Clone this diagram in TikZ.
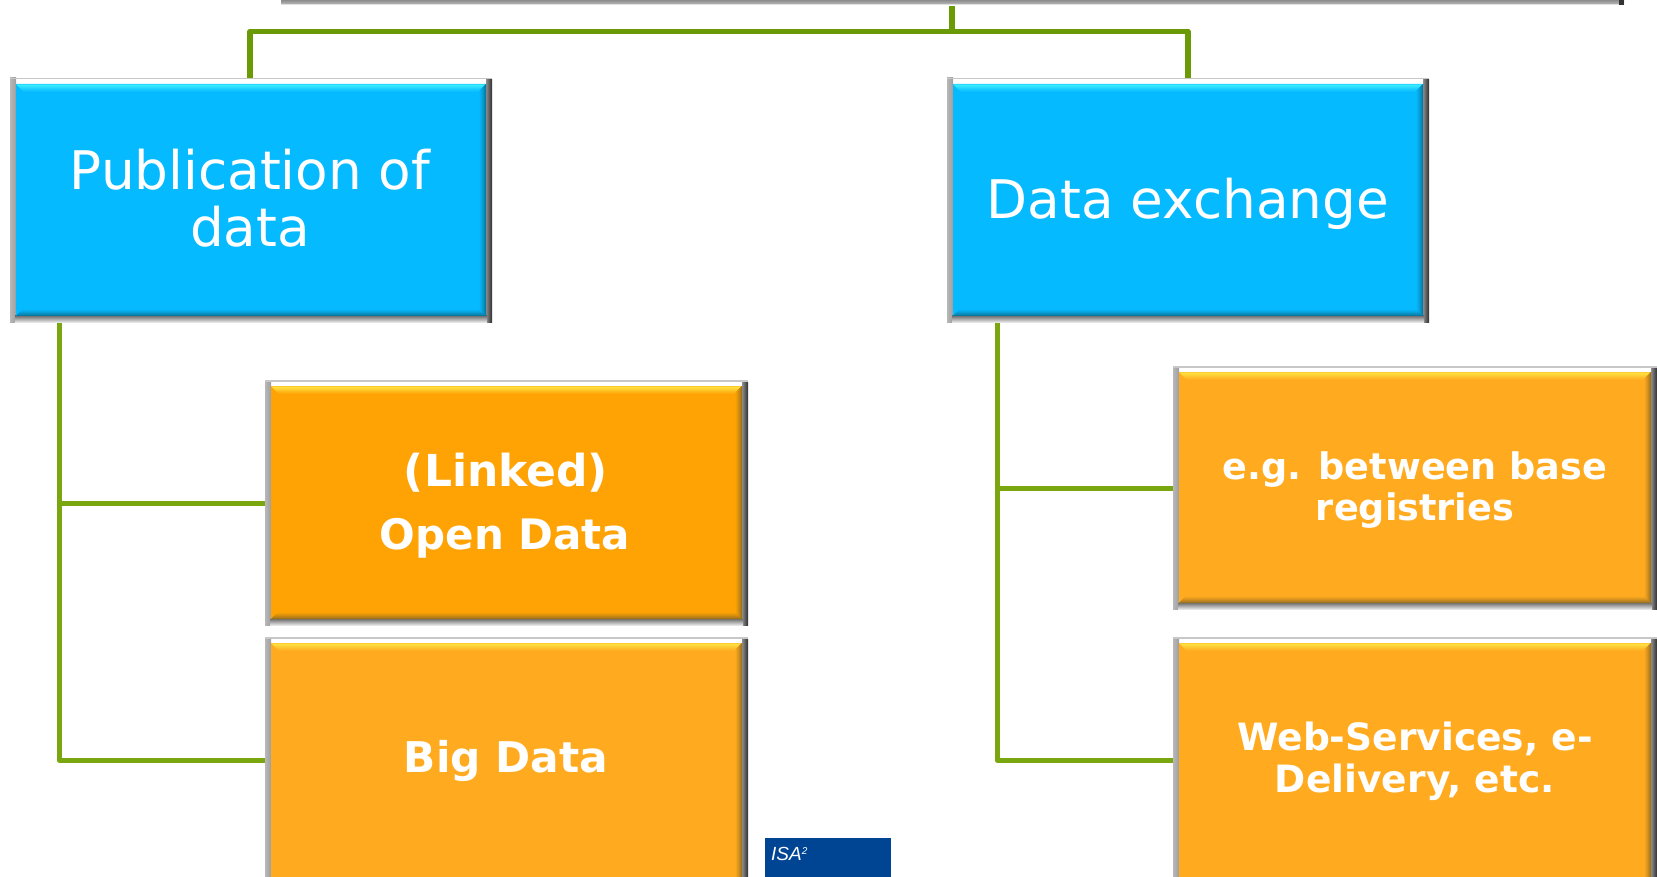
\documentclass[tikz,border=0pt]{standalone}
\usepackage{fontspec}
\setmainfont{DejaVu Sans}
\definecolor{cy}{HTML}{05BAFF}
\definecolor{cyl}{HTML}{3CEBFF}
\definecolor{cyd}{HTML}{0A6F92}
\definecolor{orA}{HTML}{FFA305}
\definecolor{orB}{HTML}{FFAA1F}
\definecolor{orl}{HTML}{FFDF40}
\definecolor{ord}{HTML}{8F6A20}
\definecolor{grn}{HTML}{6A9A06}
\definecolor{grt}{HTML}{7AA710}
\definecolor{isa}{HTML}{004494}
\tikzset{x=1pt,y=-1pt,
  conn/.style={draw=grn,line width=5.5pt,line join=round},
  conb/.style={draw=grt,line width=5pt,line join=round},
  bigtxt/.style={text=white,font=\fontsize{53.2}{58}\selectfont,align=center,inner sep=0pt},
  boldtxt/.style={text=white,align=center,inner sep=0pt}}
% #1 name, #2-#5 x1 y1 x2 y2, #6 fill, #7 light, #8 dark
\newcommand{\bev}[8]{%
  \fill[white] (#2,#3) rectangle (#4,#5);
  \fill[left color=black!28,right color=black!38] (#2,#3) rectangle (#2+6,#5);
  \fill[black!22] (#2,#3) rectangle (#4,#3+1.5);
  \fill[left color=black!45,right color=black!82] (#4-6,#3+2) rectangle (#4,#5);
  \fill[top color=black!55,bottom color=black!10] (#2+5,#5-6) rectangle (#4-5,#5);
  \fill[#6] (#2+6,#3+6) rectangle (#4-6,#5-6);
  \foreach \k/\p in {0/60,1/100,2/85,3/70,4/55,5/40,6/25,7/12}{
    \fill[#7!\p!#6] (#2+6+\k,#3+6+\k) -- (#4-6-\k,#3+6+\k) -- (#4-7-\k,#3+7.2+\k) -- (#2+7+\k,#3+7.2+\k) -- cycle;
  }
  \foreach \k/\p in {0/85,1/68,2/52,3/38,4/24,5/12}{
    \fill[#8!\p!#6] (#4-6-\k,#3+6+\k) -- (#4-6-\k,#5-6-\k) -- (#4-7.2-\k,#5-7-\k) -- (#4-7.2-\k,#3+7+\k) -- cycle;
    \fill[#8!\p!#6] (#2+6+\k,#5-6-\k) -- (#4-6-\k,#5-6-\k) -- (#4-7-\k,#5-7.2-\k) -- (#2+7+\k,#5-7.2-\k) -- cycle;
  }
  \coordinate (#1) at ({(#2+#4)/2},{(#3+#5)/2});
}
\begin{document}
\begin{tikzpicture}
\useasboundingbox (0,0) rectangle (1657,877);
\begin{scope}
\clip (0,0) rectangle (1657,877);
% top box remnant
\fill[black!12] (281,-10) rectangle (1624,5);
\fill[top color=black!45,bottom color=black!30] (281,0) rectangle (1624,3.5);
\fill[black!80] (1619,-10) rectangle (1624,5);
\bev{pub}{10}{78}{492}{322}{cy}{cyl}{cyd}
\bev{dex}{947}{78}{1429}{322}{cy}{cyl}{cyd}
\bev{od}{265}{380}{748}{625}{orA}{orl}{ord}
\bev{bd}{265}{637}{748}{890}{orB}{orl}{ord}
\bev{eg}{1173}{366}{1657}{609}{orB}{orl}{ord}
\bev{ws}{1173}{637}{1657}{890}{orB}{orl}{ord}
\end{scope}
\node[bigtxt] (t1) at (250,198) {Publication of\\[-1pt]data};
\node[bigtxt] (t2) at (1188,204) {Data exchange};
\node[boldtxt,font=\bfseries\fontsize{44}{44}\selectfont] (t3a) at (506,473) {(Linked)};
\node[boldtxt,font=\bfseries\fontsize{42}{44}\selectfont] (t3b) at (505,538) {Open Data};
\node[boldtxt,font=\bfseries\fontsize{42.3}{44}\selectfont] (t4) at (506,761) {Big Data};
\node[boldtxt,font=\bfseries\fontsize{36.6}{41}\selectfont] (t5) at (1415,490) {e.g. between base\\registries};
\node[boldtxt,font=\bfseries\fontsize{37.6}{42}\selectfont] (t6) at (1415,761) {Web-Services, e-\\Delivery, etc.};
% connectors
\coordinate (top) at (952,6);
\coordinate (bus) at (952,31.5);
\coordinate (busL) at (250,31.5);
\coordinate (busR) at (1188,31.5);
\coordinate (pubT) at (250,78);
\coordinate (dexT) at (1188,78);
\draw[conn] (top) -- (bus);
\draw[conn] (pubT) -- (busL) -- (busR) -- (dexT);
\coordinate (l0) at (59,323);
\coordinate (l1) at (59,503);
\coordinate (l2) at (59,760);
\coordinate (odL) at (265,503);
\coordinate (bdL) at (265,760);
\draw[conb] (l0) -- (l2) -- (bdL);
\draw[conb] (l1) -- (odL);
\coordinate (r0) at (997,323);
\coordinate (r1) at (997,488);
\coordinate (r2) at (997,760);
\coordinate (egL) at (1173,488);
\coordinate (wsL) at (1173,760);
\draw[conb] (r0) -- (r2) -- (wsL);
\draw[conb] (r1) -- (egL);
% logo
\begin{scope}
\clip (0,0) rectangle (1657,877);
\fill[isa] (765,838) rectangle (891,890);
\end{scope}
\node[anchor=west,text=white,inner sep=0pt] (isa) at (771,854) {\fontsize{19}{19}\fontspec{Liberation Sans}\itshape ISA\raisebox{6pt}{\fontsize{10}{10}\selectfont 2}};
\end{tikzpicture}
\end{document}
